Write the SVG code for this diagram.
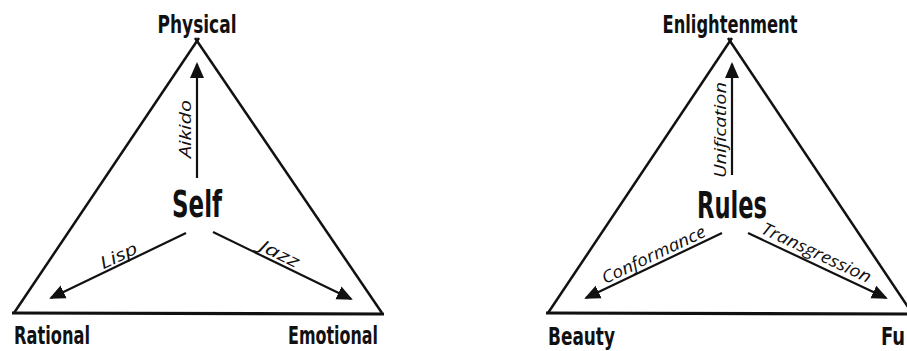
<svg xmlns="http://www.w3.org/2000/svg" width="907" height="351" viewBox="0 0 907 351">
<defs>
<style>
.tri{fill:none;stroke:#111;stroke-width:2.5;stroke-linejoin:miter}
.base{stroke:#111;stroke-width:3.2}
.arr{stroke:#111;stroke-width:2.2;fill:none;marker-end:url(#ah)}
.head{font-family:"DejaVu Sans Condensed","Liberation Sans Narrow","Liberation Sans",sans-serif;font-weight:bold;fill:#111}
.corner{font-size:21px}
.center{font-size:30px}
.hand{font-family:"Open Sans","DejaVu Sans",sans-serif;font-style:italic;font-size:17px;fill:#111}
</style>
<marker id="ah" viewBox="0 0 16 16" refX="14" refY="8" markerWidth="16" markerHeight="16" markerUnits="userSpaceOnUse" orient="auto">
<path d="M0,1 L16,8 L0,15 z" fill="#111"/>
</marker>
</defs>
<g id="triangle-self">
<polyline class="tri" points="14,313 199,38"/>
<polyline class="tri" points="195,38 382,313"/>
<line class="base" x1="12" y1="313" x2="384" y2="314"/>
</g>
<g id="triangle-rules">
<polyline class="tri" points="548,313 732,38"/>
<polyline class="tri" points="728,38 912,313"/>
<line class="base" x1="546" y1="313" x2="907" y2="314"/>
</g>
<g id="node-physical"><text class="head corner" transform="translate(197,33) scale(1,1.15)" text-anchor="middle" textLength="79" lengthAdjust="spacingAndGlyphs">Physical</text></g>
<g id="node-self"><text class="head center" transform="translate(197,217) scale(1,1.25)" text-anchor="middle" textLength="50" lengthAdjust="spacingAndGlyphs">Self</text></g>
<g id="node-rational"><text class="head corner" transform="translate(14,344) scale(1,1.15)" textLength="76" lengthAdjust="spacingAndGlyphs">Rational</text></g>
<g id="node-emotional"><text class="head corner" transform="translate(378,344) scale(1,1.15)" text-anchor="end" textLength="90" lengthAdjust="spacingAndGlyphs">Emotional</text></g>
<g id="node-enlightenment"><text class="head corner" transform="translate(730,33) scale(1,1.15)" text-anchor="middle" textLength="135" lengthAdjust="spacingAndGlyphs">Enlightenment</text></g>
<g id="node-rules"><text class="head center" transform="translate(732,218) scale(1,1.25)" text-anchor="middle" textLength="70" lengthAdjust="spacingAndGlyphs">Rules</text></g>
<g id="node-beauty"><text class="head corner" transform="translate(548,345) scale(1,1.15)" textLength="67" lengthAdjust="spacingAndGlyphs">Beauty</text></g>
<g id="node-function"><text class="head corner" transform="translate(881,345) scale(1,1.15)" textLength="24" lengthAdjust="spacingAndGlyphs">Fu</text></g>
<g id="connectors">
<line class="arr" x1="197" y1="178" x2="197" y2="64"/>
<line class="arr" x1="186" y1="233" x2="51" y2="298"/>
<line class="arr" x1="213" y1="232" x2="351" y2="299"/>
<line class="arr" x1="732" y1="175" x2="732" y2="64"/>
<line class="arr" x1="722" y1="233" x2="586" y2="298"/>
<line class="arr" x1="748" y1="233" x2="886" y2="298"/>
<text class="hand" transform="translate(191,129) rotate(-90)" text-anchor="middle" textLength="58" lengthAdjust="spacingAndGlyphs">Aikido</text>
<text class="hand" transform="translate(121,261) rotate(-25.5)" text-anchor="middle" textLength="40" lengthAdjust="spacingAndGlyphs">Lisp</text>
<text class="hand" transform="translate(277,259) rotate(25.7)" text-anchor="middle" textLength="43" lengthAdjust="spacingAndGlyphs">Jazz</text>
<text class="hand" transform="translate(726,130) rotate(-90)" text-anchor="middle" textLength="96" lengthAdjust="spacingAndGlyphs">Unification</text>
<text class="hand" transform="translate(656,260) rotate(-25.4)" text-anchor="middle" textLength="113" lengthAdjust="spacingAndGlyphs">Conformance</text>
<text class="hand" transform="translate(814,258) rotate(25)" text-anchor="middle" textLength="119" lengthAdjust="spacingAndGlyphs">Transgression</text>
</g>
</svg>
